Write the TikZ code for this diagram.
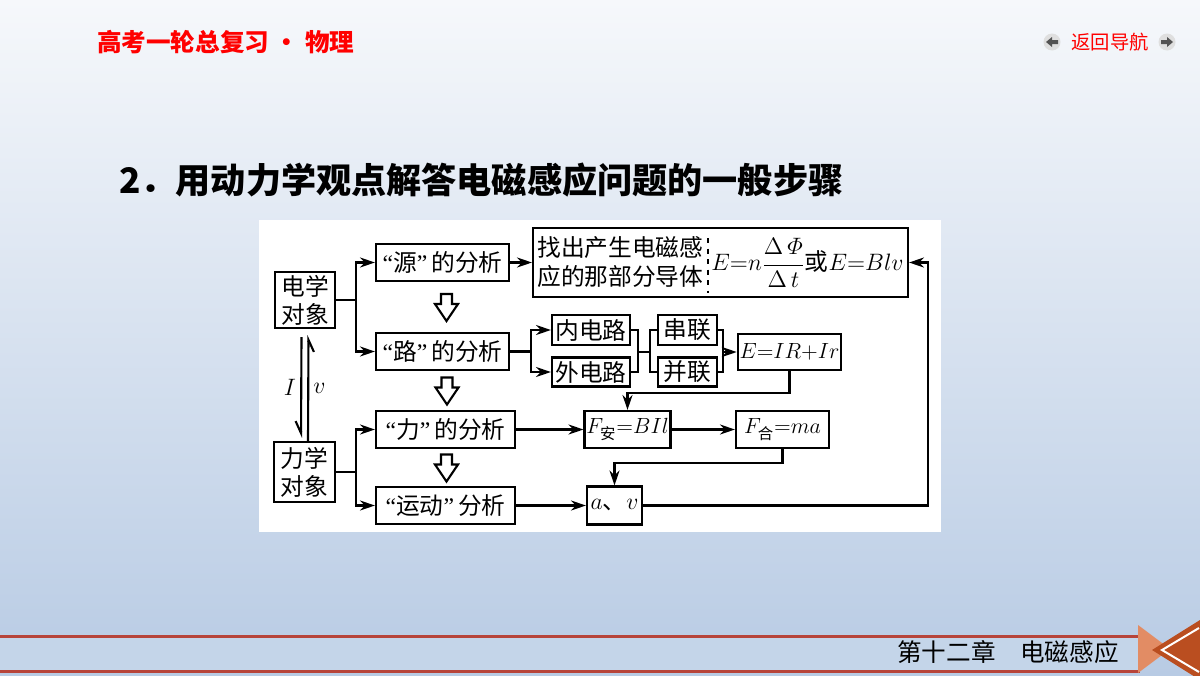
\RequirePackage{fix-cm}
\documentclass[tikz,border=0pt]{standalone}
\usepackage{amsmath}
\usepackage{fontspec}
\setmainfont{Noto Sans CJK SC}
\newfontfamily\qfont{Liberation Serif}
\newcommand{\qopen}{{\qfont “}}
\newcommand{\qclose}{{\qfont ”\,}}
\usetikzlibrary{arrows.meta,calc}

\definecolor{bgtop}{RGB}{246,248,251}
\definecolor{bgbot}{RGB}{184,203,228}
\definecolor{band}{RGB}{196,213,233}
\definecolor{rule}{RGB}{183,68,58}
\definecolor{lightor}{RGB}{226,140,100}
\definecolor{darkor}{RGB}{186,78,32}

\begin{document}
\begin{tikzpicture}[x=0.02cm, y=-0.02cm,
        box/.style={rectangle, draw, line width=1.2pt, fill=white, inner sep=1pt, text centered, font=\fontsize{13.5}{16}\selectfont},
        mathbox/.style={box, font=\fontsize{12.5}{15}\selectfont},
        line/.style={draw, line width=1.2pt, -{Stealth[length=0.3cm,width=0.2cm]}},
        link/.style={draw, line width=1.2pt},
        harpoon/.style={draw, line width=1.2pt, -{Straight Barb[right,length=0.24cm,width=0.22cm]}},
        hollow/.pic={\draw[line width=1.2pt, fill=white] (-5.5,-13) -- (5.5,-13) -- (5.5,-3) -- (11.5,-3) -- (0,14) -- (-11.5,-3) -- (-5.5,-3) -- cycle;}]

    % slide background
    \useasboundingbox (0,0) rectangle (1200,676);
    \shade [top color=bgtop, bottom color=bgbot] (0,0) rectangle (1200,676);
    \fill [band] (0,636) rectangle (1140,671);
    \draw [rule, line width=0.06cm] (0,636) -- (1140,636);
    \draw [rule, line width=0.06cm] (0,671) -- (1140,671);
    \fill [lightor] (1138,625) -- (1138,673) -- (1170,649) -- cycle;
    \fill [darkor] (1152,650) -- (1200,620) -- (1200,680) -- cycle;
    \draw [white, line width=0.04cm] (1199,628) -- (1162,650) -- (1199,672);

    % header and title
    \node [anchor=west, text=red, font=\bfseries\fontsize{14}{16}\selectfont] (head) at (91,42) {高考一轮总复习 • 物理};
    \node [text=red, font=\fontsize{11}{13}\selectfont] (nav) at (1110,42) {返回导航};
    \fill [gray!25] (1052,42) circle (8.5);
    \fill [gray!65!black] (1046,42) -- (1052,37) -- (1052,40) -- (1058,40) -- (1058,44) -- (1052,44) -- (1052,47) -- cycle;
    \fill [gray!25] (1167,42) circle (8.5);
    \fill [gray!65!black] (1173,42) -- (1167,37) -- (1167,40) -- (1161,40) -- (1161,44) -- (1167,44) -- (1167,47) -- cycle;
    \node [anchor=west, font=\bfseries\fontsize{20}{24}\selectfont] (title) at (113,180) {2．用动力学观点解答电磁感应问题的一般步骤};
    \node [font=\fontsize{14}{16}\selectfont] (chap) at (1008,652) {第十二章　电磁感应};

    % diagram panel
    \fill [white] (259,220) rectangle (941,532);

    \node [box, align=center, minimum width=1.2cm, minimum height=1.12cm] (dianxue) at (305,300) {电学\\对象};
    \node [box, align=center, minimum width=1.22cm, minimum height=1.2cm] (lixue) at (304.5,472) {力学\\对象};
    \node [box, minimum width=2.66cm, minimum height=0.74cm] (yuan) at (442.5,262.5) {\qopen 源\qclose 的分析};
    \node [box, minimum width=2.66cm, minimum height=0.74cm] (lu) at (442.5,351.5) {\qopen 路\qclose 的分析};
    \node [box, minimum width=2.78cm, minimum height=0.74cm] (li) at (445.5,429.5) {\qopen 力\qclose 的分析};
    \node [box, minimum width=2.78cm, minimum height=0.74cm] (yundong) at (445.5,505.5) {\qopen 运动\qclose 分析};
    \node [box, minimum width=7.5cm, minimum height=1.38cm] (zhaochu) at (720.5,262.5) {};
    \node [anchor=west, align=left, inner sep=0, font=\fontsize{13.5}{16.4}\selectfont] (zctext) at (537,262) {找出产生电磁感\\应的那部分导体};
    \draw [dashed, line width=1.2pt] (708,238) -- (708,293);
    \node [anchor=west, inner sep=0, font=\fontsize{13.5}{16}\selectfont] (emf) at (711,263) {$E{=}n\dfrac{\Delta\,\varPhi}{\Delta\,t}$或$E{=}Blv$};
    \node [box, minimum width=1.56cm, minimum height=0.6cm] (nei) at (591,330) {内电路};
    \node [box, minimum width=1.56cm, minimum height=0.58cm] (wai) at (591,372) {外电路};
    \node [box, minimum width=1.18cm, minimum height=0.6cm] (chuan) at (687.5,330) {串联};
    \node [box, minimum width=1.18cm, minimum height=0.58cm] (bing) at (687.5,372) {并联};
    \node [mathbox, minimum width=1.86cm, minimum height=0.72cm] (eir) at (789.5,352) {$E{=}IR{+}Ir$};
    \node [mathbox, minimum width=1.62cm, minimum height=0.74cm] (fan) at (627.5,429.5) {$F_{\text{安}}{=}BIl$};
    \node [mathbox, minimum width=1.86cm, minimum height=0.74cm] (fhe) at (782.5,429.5) {$F_{\text{合}}{=}ma$};
    \node [box, minimum width=1.1cm, minimum height=0.76cm] (av) at (614.5,505.5) {$a$、$v$};

    \coordinate (j1) at (638,352);
    \coordinate (j2) at (650,352);
    \coordinate (j3) at (723,352);
    \coordinate (fb) at (928,262.5);

    \path [line] (dianxue.east) -- ++(20,0) |- (yuan.west);
    \path [line] (dianxue.east) -- ++(20,0) |- (lu.west);
    \path [line] (yuan.east) -- (zhaochu.west);
    \path [line] (lu.east) -- ++(21,0) |- (nei.west);
    \path [line] (lu.east) -- ++(21,0) |- (wai.west);
    \path [link] (nei.east) -| (j1) |- (wai.east);
    \path [link] (j1) -- (j2);
    \path [link] (chuan.west) -| (j2) |- (bing.west);
    \path [link] (chuan.east) -| (j3) |- (bing.east);
    \path [line] (j3) -- (eir.west);
    \path [line] (eir.south) -- ++(0,22) -| (fan.north);
    \path [line] (lixue.east) -- ++(20,0) |- (li.west);
    \path [line] (lixue.east) -- ++(20,0) |- (yundong.west);
    \path [line] (li.east) -- (fan.west);
    \path [line] (fan.east) -- (fhe.west);
    \path [line] (fhe.south) -- ++(0,14) -| (av.north);
    \path [line] (yundong.east) -- (av.west);
    \path [line] (av.east) -| (fb) -- (zhaochu.east);

    \path [harpoon] ([xshift=-0.07cm,yshift=-0.16cm]dianxue.south) -- ([xshift=-0.07cm,yshift=0.06cm]lixue.north)
        node [midway, left=-1pt, font=\fontsize{13.5}{16}\selectfont] {$I$};
    \path [harpoon] ([xshift=0.07cm]lixue.north) -- ([xshift=0.07cm,yshift=-0.12cm]dianxue.south)
        node [midway, right=-1pt, font=\fontsize{13.5}{16}\selectfont] {$v$};

    \pic at ($(yuan.south)!0.5!(lu.north)+(4,0)$) {hollow};
    \pic at ($(lu.south)!0.5!(li.north)+(3,0)$) {hollow};
    \pic at ($(li.south)!0.5!(yundong.north)+(1,0)$) {hollow};
\end{tikzpicture}
\end{document}
